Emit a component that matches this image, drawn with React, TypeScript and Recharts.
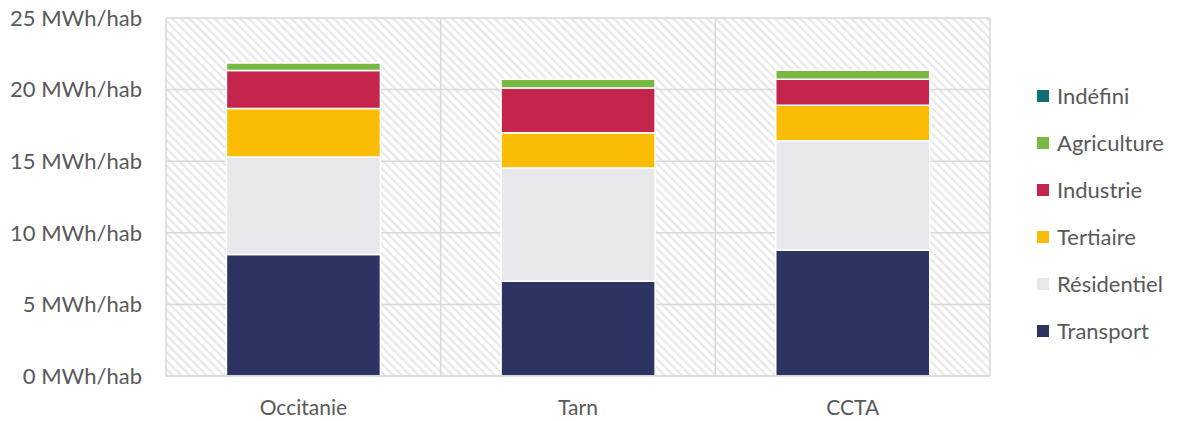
import { Bar, BarChart, CartesianGrid, Legend, XAxis, YAxis } from 'recharts';

// consommation d'énergie par habitant (MWh/hab)
const territoires = ['Occitanie', 'Tarn', 'CCTA'];
const transport = [8.49, 6.61, 8.79];
const residentiel = [6.81, 7.91, 7.63];
const tertiaire = [3.38, 2.46, 2.49];
const industrie = [2.65, 3.14, 1.82];
const agriculture = [0.53, 0.61, 0.62];
const indefini = [0, 0, 0];

const yTicks = [0, 5, 10, 15, 20, 25];

const series = [
  { key: 'Transport', values: transport, color: '#2E3461' },
  { key: 'Résidentiel', values: residentiel, color: '#E8E7EC' },
  { key: 'Tertiaire', values: tertiaire, color: '#FBBC05' },
  { key: 'Industrie', values: industrie, color: '#C5254C' },
  { key: 'Agriculture', values: agriculture, color: '#7AB844' },
  { key: 'Indéfini', values: indefini, color: '#0E6E7A' },
];

const data = territoires.map((name, i) => {
  const row: { [k: string]: string | number } = { name };
  series.forEach((s) => {
    row[s.key] = s.values[i];
  });
  return row;
});

const FONT = 'Lato, sans-serif';
const TEXT = '#595959';

function SideLegend() {
  const items = [...series].reverse();
  return (
    <div style={{ fontFamily: FONT, fontSize: 22, color: TEXT, paddingLeft: 18 }}>
      {items.map((s) => (
        <div key={s.key} style={{ display: 'flex', alignItems: 'center', height: 47 }}>
          <span style={{ width: 12, height: 12, background: s.color, marginRight: 8, display: 'inline-block' }} />
          <span>{s.key}</span>
        </div>
      ))}
    </div>
  );
}

export default function App() {
  return (
    <div style={{ marginTop: -8 }}>
      <svg width={0} height={0} style={{ position: 'absolute' }}>
        <defs>
          <pattern id="hatch" width={6} height={6} patternUnits="userSpaceOnUse" patternTransform="rotate(-45)">
            <rect width={6} height={6} fill="#ffffff" />
            <rect x={0} y={0} width={2.2} height={6} fill="#e8e8e8" />
          </pattern>
        </defs>
      </svg>
      <BarChart
        width={1161}
        height={421}
        data={data}
        margin={{ top: 18, right: 29, left: 0, bottom: 0 }}
        barCategoryGap="22%"
      >
        <CartesianGrid
          fill="url(#hatch)"
          stroke="#d9d9d9"
          strokeWidth={1.5}
          verticalCoordinatesGenerator={({ offset }: any) => [
            offset.left,
            offset.left + offset.width / 3,
            offset.left + (offset.width * 2) / 3,
            offset.left + offset.width,
          ]}
        />
        <XAxis
          dataKey="name"
          axisLine={{ stroke: '#d9d9d9', strokeWidth: 1.5 }}
          tickLine={false}
          tick={{ fill: TEXT, fontSize: 21, fontFamily: FONT }}
          tickMargin={18}
          height={45}
        />
        <YAxis
          domain={[0, 25]}
          ticks={yTicks}
          axisLine={false}
          tickLine={false}
          width={158}
          tickMargin={18}
          tick={{ fill: TEXT, fontSize: 22, fontFamily: FONT }}
          tickFormatter={(v) => `${v} MWh/hab`}
        />
        <Legend
          layout="vertical"
          align="right"
          verticalAlign="top"
          content={() => <SideLegend />}
          wrapperStyle={{ right: 0, top: 72, width: 150 }}
        />
        {series.map((s) => (
          <Bar
            key={s.key}
            dataKey={s.key}
            stackId="a"
            fill={s.color}
            stroke="#ffffff"
            strokeWidth={1.5}
            isAnimationActive={false}
          />
        ))}
      </BarChart>
    </div>
  );
}
